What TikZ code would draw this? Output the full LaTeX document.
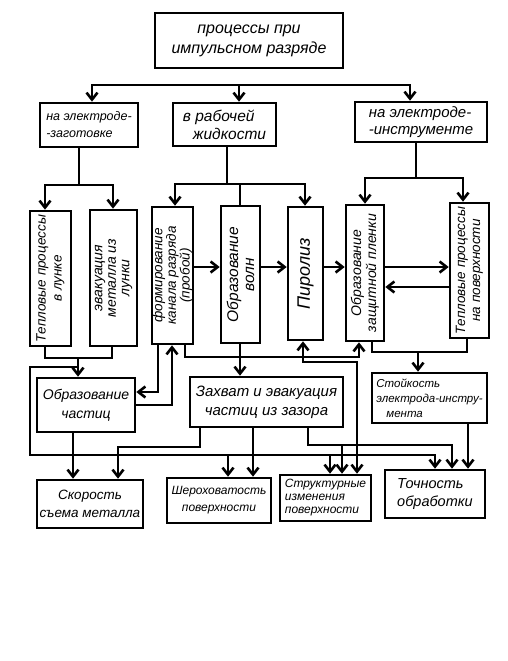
\documentclass[tikz,border=0pt]{standalone}
\usepackage{fontspec}
\setmainfont{Liberation Sans}
\usetikzlibrary{arrows.meta}
\newcommand{\hw}[2]{\fontsize{#1}{#2}\selectfont\itshape}

\begin{document}
\begin{tikzpicture}[x=1pt,y=-1pt,line width=2.6pt,>={Straight Barb[length=7pt,width=11pt]},
  blk/.style={draw,line width=2.6pt,inner sep=0pt,align=center},
  txt/.style={align=center,inner sep=0pt}]
  \useasboundingbox (0,0) rectangle (507,661);
  % verhnij blok
  \node[blk,minimum width=188pt,minimum height=55pt,font=\hw{16}{20}] (top) at (249,40.5) {процессы при\\импульсном разряде};
  % vtoroj uroven
  \node[blk,minimum width=98pt,minimum height=44pt,align=left,font=\hw{12.5}{17}] (zag) at (89,125) {на электроде-\\-заготовке};
  \node[blk,minimum width=103pt,minimum height=43pt,align=left,font=\hw{15.5}{18}] (zhid) at (224.5,124.5) {в рабочей\\\hspace*{10pt}жидкости};
  \node[blk,minimum width=132pt,minimum height=40pt,align=left,font=\hw{15}{17}] (instr) at (421,122) {на электроде-\\-инструменте};
  % vertikalnye bloki (tekst povernut)
  \node[blk,minimum width=41pt,minimum height=135pt] (tlun) at (50.5,278.5) {};
  \node[txt,rotate=90,font=\hw{13.5}{16}] (tlunT) at (tlun) {Тепловые процессы\\в лунке};
  \node[blk,minimum width=47pt,minimum height=136pt] (evak) at (113.5,278) {};
  \node[txt,rotate=90,font=\hw{14}{13.5}] (evakT) at (evak) {эвакуация\\металла из\\лунки};
  \node[blk,minimum width=41pt,minimum height=137pt] (kanal) at (172.5,275.5) {};
  \node[txt,rotate=90,font=\hw{13.5}{12.5}] (kanalT) at (kanal) {формирование\\канала разряда\\(пробой)};
  \node[blk,minimum width=39pt,minimum height=137pt] (voln) at (240.5,274.5) {};
  \node[txt,rotate=90,font=\hw{15.5}{16}] (volnT) at (voln) {Образование\\волн};
  \node[blk,minimum width=35pt,minimum height=133pt] (piro) at (305.5,273.5) {};
  \node[txt,rotate=90,font=\hw{18}{18}] (piroT) at (piro) {Пиролиз};
  \node[blk,minimum width=38pt,minimum height=136pt] (plen) at (365,273) {};
  \node[txt,rotate=90,font=\hw{14}{15}] (plenT) at (plen) {Образование\\защитной пленки};
  \node[blk,minimum width=39pt,minimum height=135pt] (tpov) at (469.5,270.5) {};
  \node[txt,rotate=90,font=\hw{13.5}{15}] (tpovT) at (tpov) {Тепловые процессы\\на поверхности};
  % srednij uroven
  \node[blk,minimum width=98pt,minimum height=54pt,font=\hw{14}{19}] (chast) at (86,405) {Образование\\частиц};
  \node[blk,minimum width=153pt,minimum height=50pt,font=\hw{15}{19}] (zahv) at (266.5,402) {Захват и эвакуация\\частиц из зазора};
  \node[blk,minimum width=115pt,minimum height=50pt,align=left,font=\hw{11.5}{15}] (stoik) at (429.5,398) {Стойкость\\электрода-инстру-\\\hspace*{10pt}мента};
  % nizhnij uroven
  \node[blk,minimum width=106pt,minimum height=48pt,font=\hw{13.5}{18}] (skor) at (90,504) {Скорость\\съема металла};
  \node[blk,minimum width=104pt,minimum height=45pt,font=\hw{12}{17}] (sher) at (219,500.5) {Шероховатость\\поверхности};
  \node[blk,minimum width=91pt,minimum height=46pt,align=left,font=\hw{12}{13}] (strukt) at (325.5,498) {Структурные\\изменения\\поверхности};
  \node[blk,minimum width=100pt,minimum height=48pt,align=left,font=\hw{14.5}{18}] (toch) at (435,494) {Точность\\обработки};

  % shina pod verhnim blokom
  \coordinate (b1) at (92,85);
  \coordinate (b2) at (239,85);
  \coordinate (b3) at (410,85);
  \draw[->] (b2) -| (b1 |- zag.north);
  \draw[->] (b2) -| (b3 |- instr.north);
  \draw[->] (b2) -- (b2 |- zhid.north);
  % na zagotovke
  \coordinate (a0) at (79,185);
  \coordinate (a1) at (45,185);
  \coordinate (a2) at (113,185);
  \draw (zag.south -| a0) -- (a0);
  \draw[->] (a0) -| (a1 |- tlun.north);
  \draw[->] (a0) -| (a2 |- evak.north);
  % v zhidkosti
  \coordinate (z0) at (227,184);
  \coordinate (z1) at (175,184);
  \coordinate (z2) at (240,184);
  \coordinate (z3) at (305,184);
  \draw (zhid.south -| z0) -- (z0);
  \draw[->] (z0) -| (z1 |- kanal.north);
  \draw[->] (z0) -| (z3 |- piro.north);
  \draw (z2) -- (z2 |- voln.north);
  % na instrumente
  \coordinate (i0) at (416,178);
  \coordinate (i1) at (365,178);
  \coordinate (i2) at (463,178);
  \draw (instr.south -| i0) -- (i0);
  \draw[->] (i0) -| (i1 |- plen.north);
  \draw[->] (i0) -| (i2 |- tpov.north);
  % gorizontalnye strelki
  \coordinate (h1) at (0,267);
  \coordinate (h2) at (0,287);
  \draw[->] (kanal.east |- h1) -- (voln.west |- h1);
  \draw[->] (voln.east |- h1) -- (piro.west |- h1);
  \draw[->] (piro.east |- h1) -- (plen.west |- h1);
  \draw[->] (plen.east |- h1) -- (tpov.west |- h1);
  \draw[->] (tpov.west |- h2) -- (plen.east |- h2);
  % lunka -> chastitsy
  \coordinate (d0) at (78,358);
  \coordinate (d1) at (45,358);
  \coordinate (d2) at (112,358);
  \draw (tlun.south -| d1) |- (d2) -- (evak.south -| d2);
  \draw[->] (d0) -- (d0 |- chast.north);
  % obshchaya shina vnizu
  \coordinate (s0) at (78,367);
  \coordinate (s1) at (30,455);
  \coordinate (s2) at (435,455);
  \coordinate (s3) at (228,455);
  \coordinate (s4) at (330,455);
  \draw[->] (s0) -| (s1) -| (s2 |- toch.north);
  \draw[->] (s3) -- (s3 |- sher.north);
  \draw[->] (s4) -- (s4 |- strukt.north);
  % chastitsy <-> kanal
  \coordinate (k1) at (158,392);
  \coordinate (k2) at (172,405);
  \draw[->] (kanal.south -| k1) |- (chast.east |- k1);
  \draw[->] (chast.east |- k2) -| (k2 |- kanal.south);
  \coordinate (c1) at (73,0);
  \draw[->] (chast.south -| c1) -- (skor.north -| c1);
  % kanal -> plenka
  \coordinate (k3) at (185,357);
  \coordinate (k4) at (359,357);
  \draw[->] (kanal.south -| k3) |- (k4) -- (k4 |- plen.south);
  % volny -> zahvat
  \draw[->] (voln.south -| z2) -- (zahv.north -| z2);
  % piroliz <-> struktura
  \coordinate (p1) at (303,362);
  \coordinate (p2) at (357,362);
  \draw[<->] (piro.south -| p1) |- (p2) -- (p2 |- strukt.north);
  % plenka, teplo -> stojkost
  \coordinate (f0) at (418,352);
  \coordinate (f1) at (372,352);
  \coordinate (f2) at (467,352);
  \draw (plen.south -| f1) |- (f2) -- (tpov.south -| f2);
  \draw[->] (f0) -- (f0 |- stoik.north);
  \coordinate (f3) at (468,0);
  \draw[->] (stoik.south -| f3) -- (toch.north -| f3);
  % zahvat -> nizhnie bloki
  \coordinate (w1) at (200,447);
  \coordinate (w2) at (118,447);
  \draw[->] (zahv.south -| w1) |- (w2) -- (w2 |- skor.north);
  \coordinate (w3) at (253,0);
  \draw[->] (zahv.south -| w3) -- (sher.north -| w3);
  \coordinate (w4) at (308,445);
  \coordinate (w5) at (452,445);
  \coordinate (w6) at (342,445);
  \draw[->] (zahv.south -| w4) |- (w5) -- (w5 |- toch.north);
  \draw[->] (w6) -- (w6 |- strukt.north);
\end{tikzpicture}
\end{document}
